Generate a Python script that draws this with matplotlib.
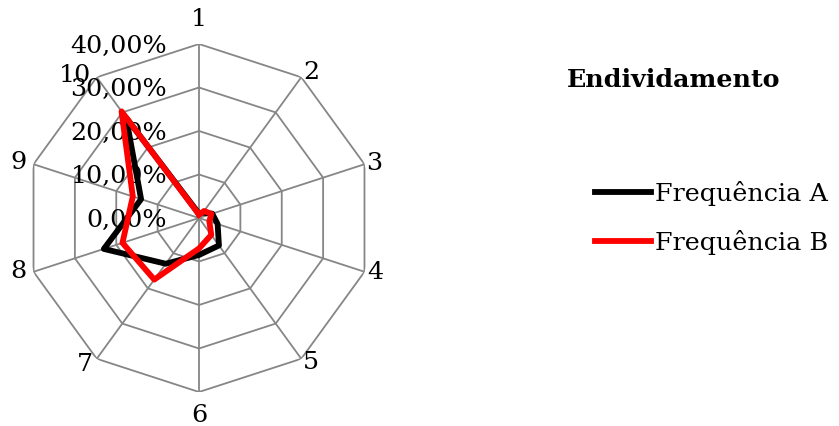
import numpy as np
import matplotlib
matplotlib.use('Agg')
from matplotlib import pyplot as plt

categories = ['1', '2', '3', '4', '5', '6', '7', '8', '9', '10']
freq_a = [1.0, 1.5, 3.2, 4.5, 7.8, 8.5, 13.0, 23.0, 14.0, 28.5]
freq_b = [0.8, 2.0, 3.0, 2.5, 4.8, 7.0, 17.5, 18.5, 16.0, 30.3]
rings = [0, 10, 20, 30, 40]
ring_labels = ['0,00%', '10,00%', '20,00%', '30,00%', '40,00%']

plt.rcParams['font.family'] = 'DejaVu Serif'
fs = 18.3

fig = plt.figure(figsize=(8.39, 4.26), dpi=100)
ax = fig.add_axes([25/839, 34/426, 348/839, 348/426], projection='polar')
ax.set_theta_offset(np.pi/2)
ax.set_theta_direction(-1)
ax.set_ylim(0, 40)
ax.grid(False)
ax.spines['polar'].set_visible(False)
ax.set_xticks([])
ax.set_yticks([])
ax.patch.set_alpha(0)

n = len(categories)
theta = np.arange(n) * 2*np.pi/n
theta_c = np.append(theta, theta[0])

grid_c = '#868686'
for r in rings[1:]:
    ax.plot(theta_c, [r]*(n+1), color=grid_c, lw=1.3, zorder=1)
for t in theta:
    ax.plot([t, t], [0, 40], color=grid_c, lw=1.3, zorder=1)

a = np.append(freq_a, freq_a[0])
b = np.append(freq_b, freq_b[0])
ax.plot(theta_c, a, color='black', lw=4.2, solid_joinstyle='round', label='Frequência A', zorder=3)
ax.plot(theta_c, b, color='#ff0000', lw=4.2, solid_joinstyle='round', label='Frequência B', zorder=4)

# category label offsets (pixels, x right / y up)
offs = [(0, 24), (10.5, 5), (9.5, 1), (11, -1), (10, -4),
        (0, -23), (-11.7, -6), (-15.5, 0), (-15.5, 2), (-21.7, 2)]
for t, lab, (dx, dy) in zip(theta, categories, offs):
    ax.annotate(lab, xy=(t, 40), xytext=(dx*0.72, dy*0.72), textcoords='offset points',
                ha='center', va='center', fontsize=fs, annotation_clip=False)

for r, lab in zip(rings, ring_labels):
    ax.annotate(lab, xy=(0, r), xytext=(-23, -1.5), textcoords='offset points',
                ha='right', va='center', fontsize=fs, annotation_clip=False, zorder=2)

fig.text(674/839, 1 - 80/426, 'Endividamento', ha='center', va='center',
         fontsize=fs, fontweight='bold')

fig.legend(loc='center left', bbox_to_anchor=(595/839, 1 - 218/426), frameon=False,
           fontsize=fs, handlelength=2.2, handletextpad=0.15, labelspacing=0.95,
           borderpad=0, borderaxespad=0)

fig.savefig('out.png', dpi=100, facecolor='white')
